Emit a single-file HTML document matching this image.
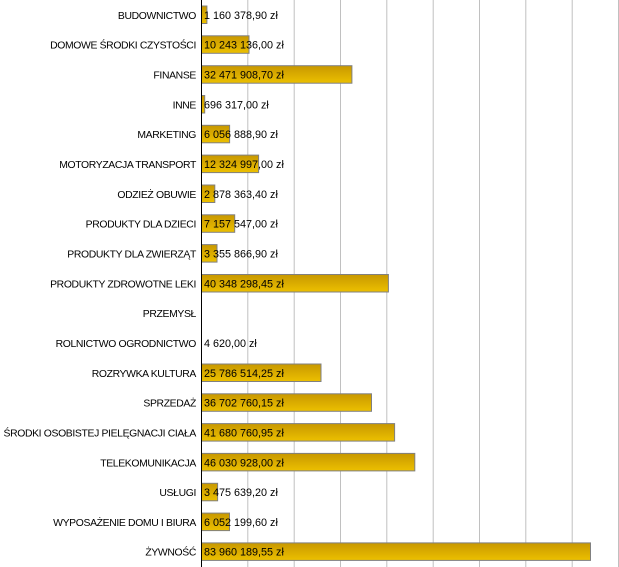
<!DOCTYPE html>
<html><head><meta charset="utf-8"><style>
html,body{margin:0;padding:0;background:#fff;}
svg{display:block;font-family:"Liberation Sans",Arial,sans-serif;font-size:11px;}
</style></head><body>
<svg width="619" height="567" viewBox="0 0 619 567" xmlns="http://www.w3.org/2000/svg">
<defs>
<linearGradient id="g" x1="0" y1="0" x2="0" y2="1">
<stop offset="0" stop-color="#c89800"/><stop offset="1" stop-color="#ecc000"/>
</linearGradient>
</defs>
<g stroke="#c0c0c0" stroke-width="1">
<line x1="247.8" y1="0" x2="247.8" y2="567"/>
<line x1="294.2" y1="0" x2="294.2" y2="567"/>
<line x1="340.5" y1="0" x2="340.5" y2="567"/>
<line x1="386.8" y1="0" x2="386.8" y2="567"/>
<line x1="433.2" y1="0" x2="433.2" y2="567"/>
<line x1="479.5" y1="0" x2="479.5" y2="567"/>
<line x1="525.8" y1="0" x2="525.8" y2="567"/>
<line x1="572.2" y1="0" x2="572.2" y2="567"/>
<line x1="618.5" y1="0" x2="618.5" y2="567"/>
</g>
<g id="bars" fill="url(#g)" stroke="#808080" stroke-width="1"></g>
<g id="txt" fill="#000"></g>
<line x1="201.5" y1="0" x2="201.5" y2="567" stroke="#000" stroke-width="1"/>
<script>
var d=[["BUDOWNICTWO",1160378.90,"1 160 378,90 zł"],["DOMOWE ŚRODKI CZYSTOŚCI",10243136,"10 243 136,00 zł"],["FINANSE",32471908.70,"32 471 908,70 zł"],["INNE",696317,"696 317,00 zł"],["MARKETING",6056888.9,"6 056 888,90 zł"],["MOTORYZACJA TRANSPORT",12324997,"12 324 997,00 zł"],["ODZIEŻ OBUWIE",2878363.4,"2 878 363,40 zł"],["PRODUKTY DLA DZIECI",7157547,"7 157 547,00 zł"],["PRODUKTY DLA ZWIERZĄT",3355866.9,"3 355 866,90 zł"],["PRODUKTY ZDROWOTNE LEKI",40348298.45,"40 348 298,45 zł"],["PRZEMYSŁ",0,""],["ROLNICTWO OGRODNICTWO",4620,"4 620,00 zł"],["ROZRYWKA KULTURA",25786514.25,"25 786 514,25 zł"],["SPRZEDAŻ",36702760.15,"36 702 760,15 zł"],["ŚRODKI OSOBISTEJ PIELĘGNACJI CIAŁA",41680760.95,"41 680 760,95 zł"],["TELEKOMUNIKACJA",46030928,"46 030 928,00 zł"],["USŁUGI",3475639.2,"3 475 639,20 zł"],["WYPOSAŻENIE DOMU I BIURA",6052199.6,"6 052 199,60 zł"],["ŻYWNOŚĆ",83960189.55,"83 960 189,55 zł"]];
var NS="http://www.w3.org/2000/svg",b=document.getElementById("bars"),t=document.getElementById("txt");
d.forEach(function(r,i){var c=14.8+i*29.83,w=r[1]*4.633e-6;
if(w>0.5){var e=document.createElementNS(NS,"rect");e.setAttribute("x",201.5);e.setAttribute("y",(c-8.8).toFixed(1));e.setAttribute("width",w.toFixed(1));e.setAttribute("height",17.5);b.appendChild(e);}
var l=document.createElementNS(NS,"text");l.setAttribute("x",196);l.setAttribute("y",(c+4).toFixed(1));l.setAttribute("text-anchor","end");l.setAttribute("font-size","10.4");l.setAttribute("letter-spacing","-0.35");l.textContent=r[0];t.appendChild(l);
if(r[2]){var v=document.createElementNS(NS,"text");v.setAttribute("x",204);v.setAttribute("y",(c+4).toFixed(1));v.setAttribute("font-size","10.8");v.textContent=r[2];t.appendChild(v);}});
</script>
</svg>
</body></html>
